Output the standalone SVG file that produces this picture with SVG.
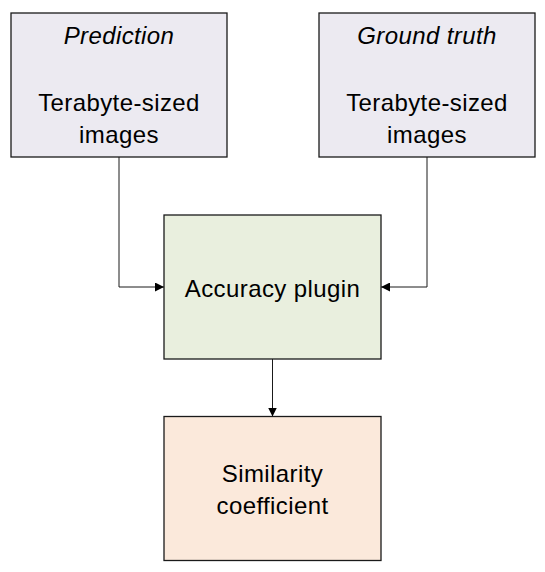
<svg xmlns="http://www.w3.org/2000/svg" width="545" height="572" viewBox="0 0 545 572">
<style>
.box{stroke:#1a1a1a;stroke-width:1.3}
.t{font-family:"Liberation Sans",Arial,sans-serif;font-size:24px;letter-spacing:0.4px;fill:#000;text-anchor:middle}
.i{font-style:italic}
.c{fill:none;stroke:#1a1a1a;stroke-width:1}
</style>
<defs>
<marker id="ah" viewBox="0 0 10 10" refX="10" refY="5" markerWidth="9" markerHeight="9" markerUnits="userSpaceOnUse" orient="auto">
<path d="M0,0 L10,5 L0,10 Z" fill="#000"/>
</marker>
</defs>
<rect width="545" height="572" fill="#fff"/>
<g id="connectors">
<path class="c" d="M119,157 V287 H164" marker-end="url(#ah)"/>
<path class="c" d="M427,157 V287 H381" marker-end="url(#ah)"/>
<path class="c" d="M272.5,359 V416.5" marker-end="url(#ah)"/>
</g>
<g id="prediction">
<rect class="box" x="11" y="13" width="216" height="144" fill="#ECEAF1"/>
<text class="t i" x="119" y="44">Prediction</text>
<text class="t" x="119" y="111">Terabyte-sized</text>
<text class="t" x="119" y="143">images</text>
</g>
<g id="ground-truth">
<rect class="box" x="319" y="13" width="216" height="144" fill="#ECEAF1"/>
<text class="t i" x="427" y="44">Ground truth</text>
<text class="t" x="427" y="111">Terabyte-sized</text>
<text class="t" x="427" y="143">images</text>
</g>
<g id="accuracy">
<rect class="box" x="164" y="215" width="217" height="144" fill="#E9EFDE"/>
<text class="t" x="272.5" y="297">Accuracy plugin</text>
</g>
<g id="similarity">
<rect class="box" x="164" y="416.5" width="217" height="144" fill="#FBE9DB"/>
<text class="t" x="272.5" y="482">Similarity</text>
<text class="t" x="272.5" y="514">coefficient</text>
</g>
</svg>
